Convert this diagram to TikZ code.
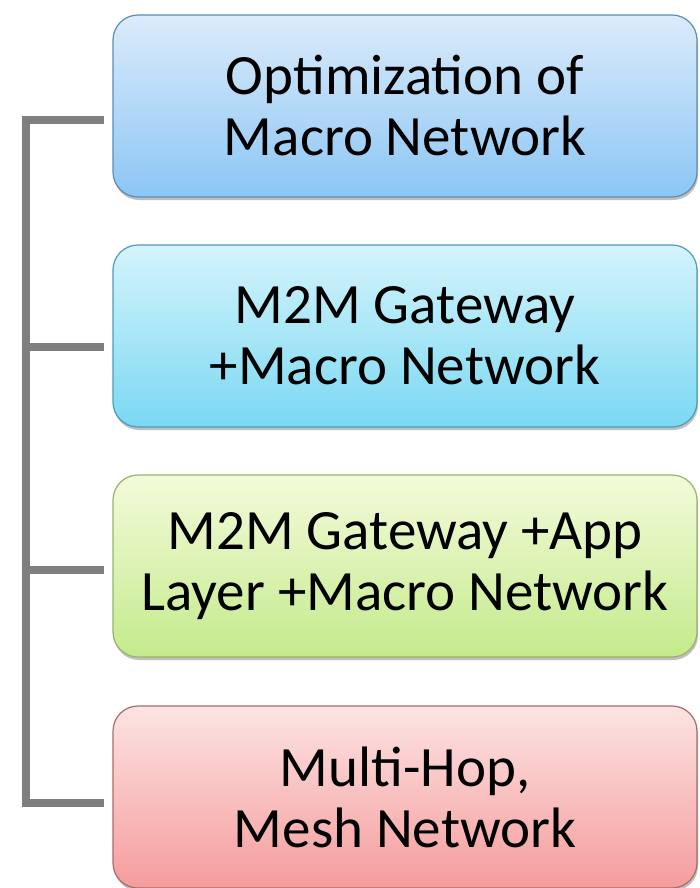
\documentclass[tikz,border=0pt]{standalone}
\usepackage{fontspec}
\setmainfont{Carlito}
\usetikzlibrary{calc,shadows}

\definecolor{blueTop}{HTML}{DBEBFB}
\definecolor{blueBot}{HTML}{8CC6F4}
\definecolor{blueEdge}{HTML}{5B8DB5}
\definecolor{cyanTop}{HTML}{D5F4FB}
\definecolor{cyanBot}{HTML}{7AD8F3}
\definecolor{cyanEdge}{HTML}{4E9DB5}
\definecolor{greenTop}{HTML}{F3FBDA}
\definecolor{greenBot}{HTML}{C4EA8C}
\definecolor{greenEdge}{HTML}{98B46C}
\definecolor{redTop}{HTML}{FDE3E3}
\definecolor{redBot}{HTML}{F59C9C}
\definecolor{redEdge}{HTML}{A86C6C}
\definecolor{bracketGray}{HTML}{7F7F7F}

\tikzset{
  layerbox/.style n args={3}{
    draw=#3, line width=1.2pt, rounded corners=25pt,
    top color=#1, bottom color=#2,
    minimum width=584pt, minimum height=182pt,
    align=center, font=\fontsize{57}{61}\selectfont, text=black,
    drop shadow={shadow xshift=1pt, shadow yshift=-3pt, opacity=0.25, fill=black}
  },
  bracket/.style={draw=bracketGray, line width=8pt, line join=miter}
}

\begin{document}
\begin{tikzpicture}[x=1pt,y=1pt]
  \useasboundingbox (0,0) rectangle (700,-888);
  \fill[white] (0,0) rectangle (700,-888);

  % the four layers
  \node[layerbox={blueTop}{blueBot}{blueEdge}]   (b1) at (405,-106) {Optimization of\\Macro Network};
  \node[layerbox={cyanTop}{cyanBot}{cyanEdge}]   (b2) at (405,-336) {M2M Gateway\\+Macro Network};
  \node[layerbox={greenTop}{greenBot}{greenEdge}] (b3) at (405,-566) {M2M Gateway +App\\Layer +Macro Network};
  \node[layerbox={redTop}{redBot}{redEdge}]      (b4) at (405,-797) {Multi-Hop,\\Mesh Network};

  % attachment points on the left edges of the boxes
  \coordinate (p1) at ($(b1.west)+(-8,-14)$);
  \coordinate (p2) at ($(b2.west)+(-8,-11)$);
  \coordinate (p3) at ($(b3.west)+(-8,-4)$);
  \coordinate (p4) at ($(b4.west)+(-8,-6)$);

  % bracket spine at x = 26
  \coordinate (s1) at (26,0 |- p1);
  \coordinate (s2) at (26,0 |- p2);
  \coordinate (s3) at (26,0 |- p3);
  \coordinate (s4) at (26,0 |- p4);

  \draw[bracket] (p1) -- (s1) -- (s4) -- (p4);
  \draw[bracket] (s2) -- (p2);
  \draw[bracket] (s3) -- (p3);
\end{tikzpicture}
\end{document}
